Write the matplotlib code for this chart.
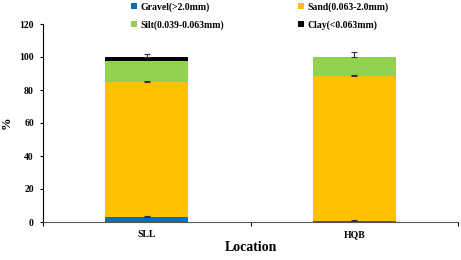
import numpy as np
import matplotlib.pyplot as plt

locations = ["SLL", "HQB"]
fractions = ["Gravel(>2.0mm)", "Sand(0.063-2.0mm)", "Silt(0.039-0.063mm)", "Clay(<0.063mm)"]
gravel = [3.3, 0.8]
sand = [81.5, 87.9]
silt = [12.8, 11.0]
clay = [2.4, 0.3]
gravel_err = [0.6, 0.6]
sand_err = [0.5, 0.5]
silt_err = [0.0, 0.0]
clay_err = [1.6, 2.8]
colors = ["#0070C0", "#FFC000", "#92D050", "#000000"]

plt.rcParams['font.family'] = ['Liberation Serif', 'DejaVu Serif']
plt.rcParams['font.weight'] = 'bold'

fig = plt.figure(figsize=(4.61, 2.6), dpi=100)
ax = fig.add_axes([43/461, 38/260, 415/461, 198/260])

x = np.arange(len(locations))
layers = [gravel, sand, silt, clay]
errs = [gravel_err, sand_err, silt_err, clay_err]
bottom = np.zeros(len(locations))
handles = []
for vals, err, col, lab in zip(layers, errs, colors, fractions):
    vals = np.array(vals)
    h = ax.bar(x, vals, width=0.4, bottom=bottom, color=col, label=lab, zorder=2)
    handles.append(h)
    top = bottom + vals
    e = np.array(err)
    if e.any():
        ax.errorbar(x, top, yerr=[np.zeros_like(e), e], fmt='none', ecolor='#333333',
                    elinewidth=0.8, capsize=2.5, capthick=0.8, zorder=3)
    bottom = top

ax.set_xlim(-0.5, 1.5)
ax.set_ylim(0, 120)
ax.set_yticks(range(0, 121, 20))
ax.set_xticks(x)
ax.set_xticklabels(locations, fontsize=7, fontweight='bold')
ax.set_xticks([-0.5, 0.5, 1.5], minor=True)
ax.tick_params(axis='x', which='major', length=0, pad=6)
ax.tick_params(axis='x', which='minor', length=3, direction='out', width=0.8)
ax.tick_params(axis='y', labelsize=7, length=2.5, width=0.8, direction='out', pad=4)
for lab in ax.get_yticklabels():
    lab.set_fontweight('bold')
ax.spines['top'].set_visible(False)
ax.spines['right'].set_visible(False)
ax.spines['left'].set_linewidth(0.8)
ax.spines['bottom'].set_linewidth(0.8)
ax.spines['bottom'].set_color('#555555')

ax.set_xlabel("Location", fontsize=10, fontweight='bold', labelpad=1)
ax.set_ylabel("%", fontsize=9, fontweight='bold')
ax.yaxis.set_label_coords(-30/415, 0.5)

# row-wise legend order: Gravel, Sand / Silt, Clay
order = [0, 2, 1, 3]
fig.legend([handles[i] for i in order], [fractions[i] for i in order],
           loc='upper left', bbox_to_anchor=(125/461, 1.015), ncol=2, frameon=False,
           fontsize=7, handlelength=0.6, handleheight=0.6, handletextpad=0.4,
           columnspacing=7.6, labelspacing=0.9, borderaxespad=0.2)

fig.savefig("out.png", dpi=100)
